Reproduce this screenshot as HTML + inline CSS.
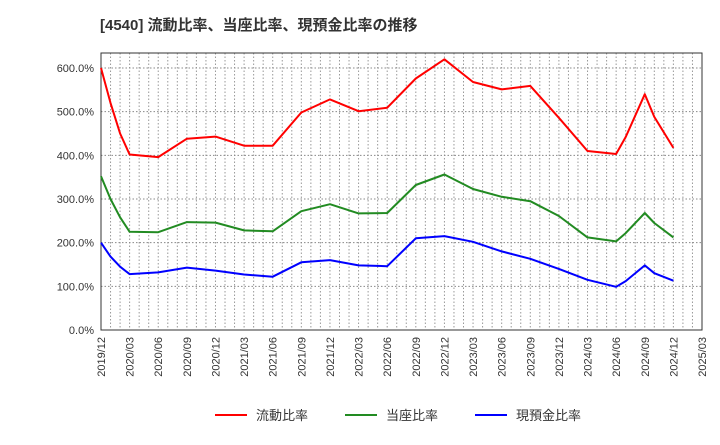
<!DOCTYPE html>
<html><head><meta charset="utf-8"><style>
body{margin:0;background:#fff;font-family:"Liberation Sans","Noto Sans CJK JP",sans-serif}
</style></head><body>
<svg id="c" width="720" height="440" xmlns="http://www.w3.org/2000/svg" font-family="Liberation Sans, Noto Sans CJK JP, sans-serif">
<text x="100" y="30" font-size="15" font-weight="bold" fill="#333">[4540]  流動比率、当座比率、現預金比率の推移</text>
<g id="grid"></g><g id="axes"></g><g id="series"></g>
<g>
<line x1="215" y1="415" x2="247" y2="415" stroke="#f00" stroke-width="2"/><text x="256" y="420" font-size="13" fill="#333">流動比率</text>
<line x1="345" y1="415" x2="377" y2="415" stroke="#228b22" stroke-width="2"/><text x="386" y="420" font-size="13" fill="#333">当座比率</text>
<line x1="475" y1="415" x2="507" y2="415" stroke="#00f" stroke-width="2"/><text x="516" y="420" font-size="13" fill="#333">現預金比率</text>
</g>
</svg>
<script>
const xLabels=["2019/12","2020/03","2020/06","2020/09","2020/12","2021/03","2021/06","2021/09","2021/12","2022/03","2022/06","2022/09","2022/12","2023/03","2023/06","2023/09","2023/12","2024/03","2024/06","2024/09","2024/12","2025/03"];
const yTicks=[0,100,200,300,400,500,600];
const monthIdx=[0,1,2,3,6,9,12,15,18,21,24,27,30,33,36,39,42,45,48,51,54,55,57,58,60];
const currentRatio=[600,520,450,402,396,438,443,422,422,498,528,501,509,576,620,568,551,559,486,410,403,442,540,488,417];
const quickRatio=[352,300,258,225,224,247,246,228,226,272,288,267,268,332,356,323,305,295,261,212,203,222,268,245,212];
const cashRatio=[200,168,145,128,132,143,136,127,122,155,160,148,146,210,215,202,180,163,140,115,99,112,148,130,113];
const L=101,R=702,T=53,B=330,maxM=63,maxY=640;
const sx=m=>L+(R-L)*m/maxM, sy=v=>B-(B-T)*v/maxY+ (0);
const ns="http://www.w3.org/2000/svg";
function mk(p,t,a){const e=document.createElementNS(ns,t);for(const k in a)e.setAttribute(k,a[k]);p.appendChild(e);return e;}
const g=document.getElementById('grid'),ax=document.getElementById('axes'),s=document.getElementById('series');
const yS=v=>330-(v/600)*262;
for(let m=1;m<maxM;m++){const l=mk(g,'line',{x1:sx(m),x2:sx(m),y1:T,y2:B,stroke:'#999','stroke-dasharray':'1.5,2','stroke-width':1});

}
yTicks.forEach(v=>{const y=yS(v);
const l=mk(g,'line',{x1:L,x2:R,y1:y,y2:y,stroke:'#888','stroke-dasharray':'1.5,2','stroke-width':1});


const t=mk(ax,'text',{x:94,y:y+4,'text-anchor':'end','font-size':11,fill:'#333'});t.textContent=v.toFixed(1)+'%';

});
const fr=mk(ax,'rect',{x:L,y:T,width:R-L,height:B-T,fill:'none',stroke:'#333','stroke-width':1});


xLabels.forEach((lab,i)=>{const x=sx(i*3);
const t=mk(ax,'text',{x:0,y:0,'text-anchor':'end','font-size':11,fill:'#333',transform:`translate(${x+4},337) rotate(-90)`});t.textContent=lab;

});
[[currentRatio,'#f00','current-ratio-line'],[quickRatio,'#228b22','quick-ratio-line'],[cashRatio,'#00f','cash-ratio-line']].forEach(([d,c,n])=>{
const pts=d.map((v,i)=>sx(monthIdx[i]).toFixed(1)+','+yS(v).toFixed(1)).join(' ');
const p=mk(s,'polyline',{points:pts,fill:'none',stroke:c,'stroke-width':2,'stroke-linejoin':'round'});

});
</script>
</body></html>
